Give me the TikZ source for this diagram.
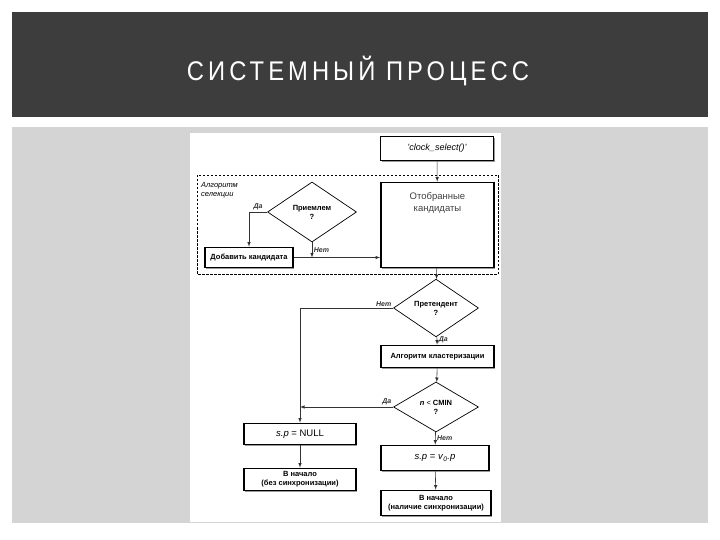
\documentclass[tikz,border=0pt]{standalone}
\usepackage{fontspec}
\setmainfont{Liberation Sans}
\newfontfamily\titlefont[LetterSpace=15,FakeStretch=0.88]{Liberation Sans}
\usepackage{tikz}
\usetikzlibrary{positioning,shapes.geometric,shadows}

\definecolor{hdrgrey}{HTML}{3D3D3D}
\definecolor{panelgrey}{HTML}{D4D4D4}

\begin{document}
\begin{tikzpicture}[
  x=1pt, y=-1pt,
  >=latex,
  box/.style={draw, line width=1.6pt, fill=white, align=center, inner sep=1pt,
    font=\fontsize{7.5}{9}\selectfont\bfseries,
    drop shadow={shadow xshift=1.3pt, shadow yshift=-1.3pt, fill=black!40, opacity=1}},
  test/.style={draw, diamond, fill=white, line width=0.7pt, inner sep=0pt, align=center,
    font=\fontsize{7.5}{9}\selectfont\bfseries},
  lbl/.style={font=\fontsize{7}{8}\selectfont\bfseries\itshape, inner sep=1.5pt},
  conn/.style={->, line width=0.6pt, black!80}
]
% background, header and panel
\fill[white] (0,0) rectangle (720,540);
\fill[hdrgrey] (12,12) rectangle (708,117);
\fill[panelgrey] (12,127) rectangle (708,523);
\fill[white] (190,133) rectangle (501,522);
\node[text=white, font=\titlefont\fontsize{27}{30}\selectfont] (title) at (358,71) {СИСТЕМНЫЙ ПРОЦЕСС};

% selection block
\draw[dashed, line width=0.6pt, dash pattern=on 2.5pt off 1.5pt] (197,175) rectangle (498,274);
\node[anchor=north west, align=left, inner sep=0pt,
  font=\fontsize{7.5}{9}\selectfont\itshape] (selname) at (201,182) {Алгоритм\\селекции};

\node[box, minimum width=113pt, minimum height=24pt, font=\fontsize{9}{10}\selectfont\itshape\mdseries]
  (clock) at (437,148.5) {'clock\_select()'};
\node[box, minimum width=113pt, minimum height=85pt] (sel) at (437.5,225) {};
\node[below=7pt of sel.north, align=center, text=black!75,
  font=\fontsize{9.5}{12}\selectfont] (seltxt) {Отобранные\\кандидаты};
\node[test, minimum width=89pt, minimum height=60pt] (acc) at (312,212) {Приемлем\\?};
\node[box, minimum width=88pt, minimum height=20pt] (add) at (249,257.5) {Добавить кандидата};

% main chain
\node[test, minimum width=85pt, minimum height=48pt] (pret) at (436,308) {Претендент\\?};
\node[box, minimum width=113pt, minimum height=22pt] (clust) at (437.5,356.5) {Алгоритм кластеризации};
\node[test, minimum width=85pt, minimum height=50pt] (cmin) at (436,407)
  {\textit{n} {\mdseries<} CMIN\\?};
\node[box, minimum width=108pt, minimum height=25pt, font=\fontsize{9.5}{11}\selectfont\mdseries]
  (spv) at (435,458) {\textit{s.p} = \textit{v}\textsubscript{\textit{0}}\textit{.p}};
\node[box, minimum width=110pt, minimum height=25pt] (sync) at (436,503) {В начало\\(наличие синхронизации)};
\node[box, minimum width=112pt, minimum height=21pt, font=\fontsize{9.5}{11}\selectfont\mdseries]
  (null) at (300,434) {\textit{s.p} = NULL};
\node[box, minimum width=112pt, minimum height=22pt] (nosync) at (300,479.5) {В начало\\(без синхронизации)};

% connectors
\draw[conn] (clock) -- (sel);
\draw[conn] (acc.west) -| (add.north) node[lbl, above, pos=0.25] {Да};
\draw[conn] (acc.south) -- (acc.south |- add.east) node[lbl, right, midway] {Нет};
\draw[conn] (add.east) -- (add.east -| sel.west);
\draw[conn] (sel) -- (pret);
\draw[conn] (pret.west) -| (null.north) node[lbl, anchor=south east, pos=0] {Нет};
\draw[conn] (pret) -- (clust) node[lbl, right, pos=0.35] {Да};
\draw[conn] (clust) -- (cmin);
\draw[conn] (cmin.west) -- (cmin.west -| null.north) node[lbl, anchor=south east, pos=0] {Да};
\draw[conn] (cmin) -- (spv) node[lbl, right, midway] {Нет};
\draw[conn] (spv) -- (sync);
\draw[conn] (null) -- (nosync);
\end{tikzpicture}
\end{document}
